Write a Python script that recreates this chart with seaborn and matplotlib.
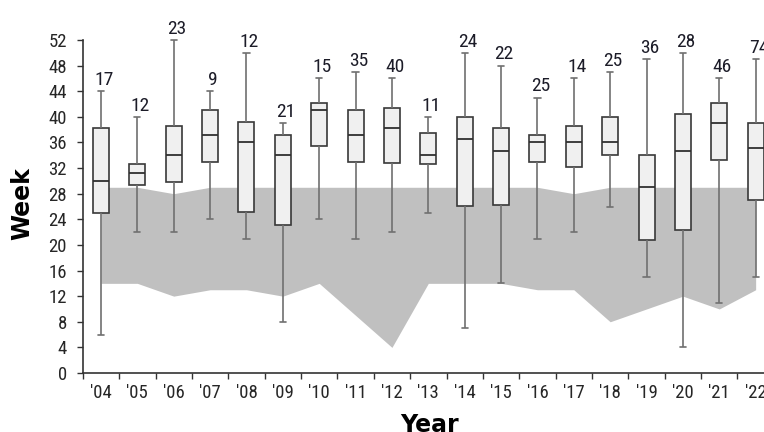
import numpy as np
import pandas as pd
import matplotlib
matplotlib.use("Agg")
import matplotlib.pyplot as plt
from matplotlib import font_manager
import seaborn as sns

# Season summary per year (weeks)
years = ["'04", "'05", "'06", "'07", "'08", "'09", "'10", "'11", "'12", "'13",
         "'14", "'15", "'16", "'17", "'18", "'19", "'20", "'21", "'22"]
whisker_low = [6, 22, 22, 24, 21, 8, 24, 21, 22, 25, 7, 14, 21, 22, 26, 15, 4, 11, 15]
q1 = [25, 29.3, 29.9, 33, 25.2, 23.1, 35.5, 33, 32.8, 32.6, 26.1, 26.2, 33, 32.2, 34.1, 20.8, 22.3, 33.2, 27]
median = [30, 31.2, 34.1, 37.2, 36, 34.1, 41.1, 37.2, 38.2, 34.1, 36.5, 34.6, 36, 36, 36, 29, 34.6, 39, 35.1]
q3 = [38.2, 32.7, 38.6, 41.1, 39.2, 37.2, 42.1, 41.1, 41.4, 37.5, 40, 38.2, 37.2, 38.6, 40, 34.1, 40.4, 42.1, 39]
whisker_high = [44, 40, 52, 44, 50, 39, 46, 47, 46, 40, 50, 48, 43, 46, 47, 49, 50, 46, 49]
counts = [17, 12, 23, 9, 12, 21, 15, 35, 40, 11, 24, 22, 25, 14, 25, 36, 28, 46, 74]

# Reference season band
band_low = [14, 14, 12, 13, 13, 12, 14, 9, 4, 14, 14, 14, 13, 13, 8, 10, 12, 10, 13]
band_high = [29, 29, 28, 29, 29, 29, 29, 29, 29, 29, 29, 29, 29, 28, 29, 29, 29, 29, 29]

yticks = list(range(0, 53, 4))

# Five-number summaries as long-form data (quartiles land exactly on q1/median/q3)
rows = []
for i, yr in enumerate(years):
    for v in (whisker_low[i], q1[i], median[i], q3[i], whisker_high[i]):
        rows.append({"year": yr, "week": v})
df = pd.DataFrame(rows)

sns.set_style("ticks")
names = {f.name for f in font_manager.fontManager.ttflist}
label_font, label_size = "Liberation Sans", 12.5
for cand, size in (("Liberation Sans Narrow", 14), ("Roboto Condensed", 13.5),
                   ("Noto Sans Condensed", 13), ("Open Sans Condensed", 13)):
    if cand in names:
        label_font, label_size = cand, size
        break
plt.rcParams["font.family"] = [label_font, "DejaVu Sans"]

W, H = 764, 432
fig = plt.figure(figsize=(W / 100, H / 100), dpi=100)
left_px, bottom_px, top_px = 82.8, 373, 40
step_px = 36.37
ax = fig.add_axes([left_px / W, 1 - bottom_px / H,
                   19 * step_px / W, (bottom_px - top_px) / H])

pos = np.arange(len(years))
ax.fill_between(pos, band_low, band_high, color="#c0c0c0", linewidth=0, zorder=0)

sns.boxplot(data=df, x="year", y="week", order=years, ax=ax,
            width=0.44, whis=(0, 100), showfliers=False, saturation=1,
            color="#f0f0f0", linecolor="#383838", linewidth=1.2,
            whiskerprops=dict(color="#707070", linewidth=1.2),
            capprops=dict(color="#707070", linewidth=1.2),
            medianprops=dict(color="#303030", linewidth=1.3),
            capwidths=0.17)

for art in list(ax.lines) + list(ax.patches):
    art.set_clip_on(False)

for i, n in enumerate(counts):
    ax.annotate(str(n), (i + 0.08, whisker_high[i]), xytext=(0, 4.5),
                textcoords="offset points", ha="center", va="baseline",
                fontsize=label_size + 0.5, color="#1c1c28", annotation_clip=False)

ax.set_xlim(-0.5, len(years) - 0.5)
ax.set_ylim(0, 52)
ax.set_yticks(yticks)
ax.set_yticklabels([str(t) for t in yticks])
ax.set_xticks(pos)
ax.set_xticklabels(years)
ax.set_xticks(np.arange(-0.5, len(years), 1), minor=True)
ax.tick_params(axis="x", which="major", length=0, pad=8, labelsize=label_size, labelcolor="#262626")
ax.tick_params(axis="x", which="minor", length=4, width=1, color="#333333", direction="out")
ax.tick_params(axis="y", length=4, width=1, color="#333333", pad=7.5, labelsize=label_size, labelcolor="#262626")
ax.set_xlabel("")
ax.set_ylabel("")
for side in ("top", "right"):
    ax.spines[side].set_visible(False)
for side in ("left", "bottom"):
    ax.spines[side].set_color("#333333")
    ax.spines[side].set_linewidth(1.2)

fig.text(22 / W, 1 - 204 / H, "Week", rotation=90, ha="center", va="center",
         fontsize=17, fontweight="bold", family="DejaVu Sans", color="black")
fig.text(429 / W, 0.5 / H, "Year", ha="center", va="baseline",
         fontsize=17, fontweight="bold", family="DejaVu Sans", color="black")

fig.savefig("out.png", dpi=100)
